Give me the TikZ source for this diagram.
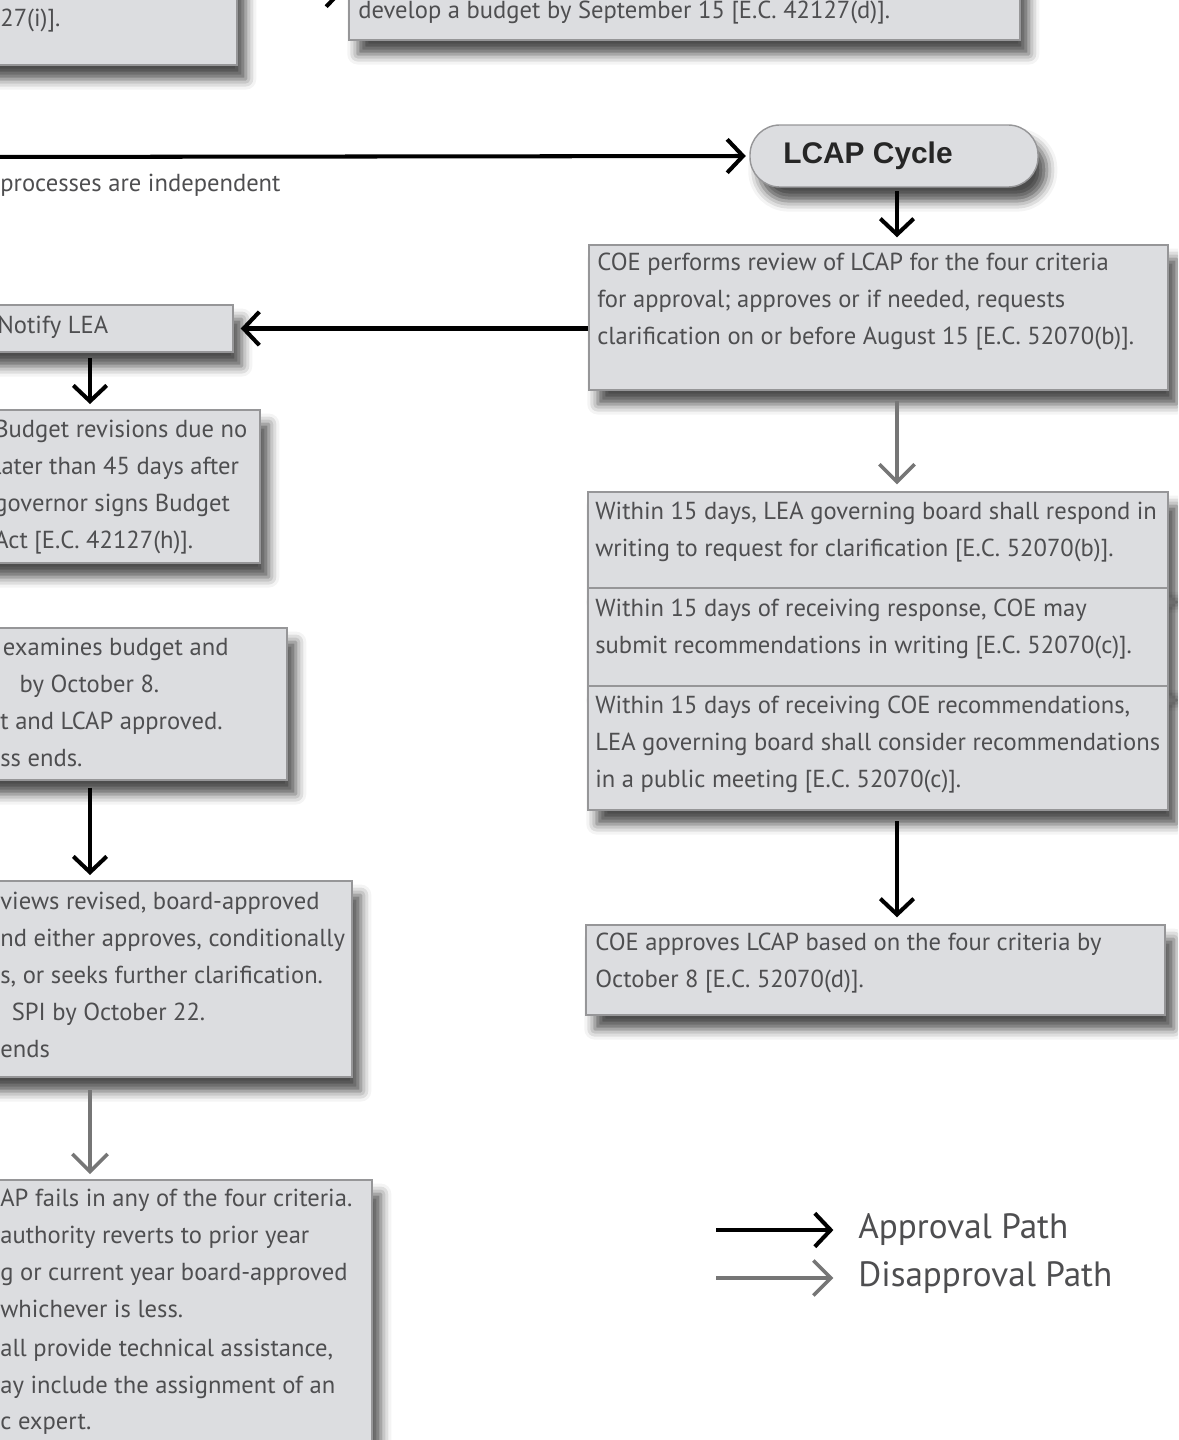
\documentclass[tikz,border=0pt]{standalone}
\usepackage{fontspec}
\setmainfont{PT Sans}
\setsansfont{Liberation Sans}
\usetikzlibrary{arrows.meta,positioning,calc,fit,shadows.blur}
\definecolor{boxfill}{RGB}{220,221,224}
\definecolor{boxline}{RGB}{150,150,152}
\definecolor{txtgray}{RGB}{78,78,80}
\definecolor{nogray}{RGB}{118,118,118}

\begin{document}
\begin{tikzpicture}[x=0.02cm, y=-0.02cm,
    box/.style={draw=boxline, fill=boxfill, line width=0.8pt, inner sep=0pt,
        blur shadow={shadow xshift=5pt, shadow yshift=-8pt, shadow blur radius=6pt, shadow opacity=70}},
    txt/.style={anchor=north west, inner sep=0pt, align=left, text=txtgray,
        font=\fontsize{14}{21}\selectfont},
    approve/.style={-{Straight Barb[length=9pt,width=19pt]}, line width=2.3pt, black},
    reject/.style={-{Straight Barb[length=10pt,width=20pt]}, line width=2pt, nogray},
]
    \useasboundingbox (0,0) rectangle (1178,1440);
    \clip (0,0) rectangle (1178,1440);
    \coordinate (lcol) at (90,0);
    \coordinate (rcol) at (897,0);

    % Budget cycle boxes cut at the top
    \node[box, fit={(-30,-100) (237,65)}] (prior) {};
    \node[txt] (prior-t) at (0,9) {27(i)].};
    \node[box, fit={(349,-60) (1020,40)}] (dev) {};
    \node[txt] (dev-t) at (358,1) {develop a budget by September 15 [E.C. 42127(d)].};
    \draw[approve, shorten >=2pt] (prior.east |- dev.west) -- (dev.west);

    % LCAP cycle
    \node[box, rounded corners=17pt, fit={(750,125) (1038,187)}] (lcap) {};
    \node[anchor=west, inner sep=0pt, text=black!85,
        font=\sffamily\bfseries\fontsize{17}{20}\selectfont] (lcap-t) at (783,156) {LCAP Cycle};
    \coordinate (lft) at (-30,157);
    \draw[approve, shorten >=2pt] (lft) -- (lcap.west);
    \node[txt, anchor=west] (indep) at (0,185) {processes are independent};

    % right column
    \node[box, fit={(589,245) (1168,390)}] (rev) {};
    \node[txt] (rev-t) at (597,253) {COE performs review of LCAP for the four criteria\\
        for approval; approves or if needed, requests\\
        clarification on or before August 15 [E.C. 52070(b)].};
    \node[box, fit={(588,492) (1168,588)}] (resp1) {};
    \node[box, fit={(588,588) (1168,686)}] (resp2) {};
    \node[box, fit={(588,686) (1168,810)}] (resp3) {};
    \node[txt] (resp1-t) at (595,502) {Within 15 days, LEA governing board shall respond in\\
        writing to request for clarification [E.C. 52070(b)].};
    \node[txt] (resp2-t) at (595,599) {Within 15 days of receiving response, COE may\\
        submit recommendations in writing [E.C. 52070(c)].};
    \node[txt] (resp3-t) at (595,696) {Within 15 days of receiving COE recommendations,\\
        LEA governing board shall consider recommendations\\
        in a public meeting [E.C. 52070(c)].};
    \node[box, fit={(586,925) (1165,1015)}] (appr) {};
    \node[txt] (appr-t) at (595,933) {COE approves LCAP based on the four criteria by\\
        October 8 [E.C. 52070(d)].};

    % left column
    \node[box, fit={(-30,305) (233,352)}] (notify) {};
    \node[txt, anchor=west] (notify-t) at (-3,327) {Notify LEA};
    \node[box, fit={(-30,410) (260,563)}] (budrev) {};
    \node[txt] (budrev-t) at (-6,420) {Budget revisions due no\\
        later than 45 days after\\
        governor signs Budget\\
        Act [E.C. 42127(h)].};
    \node[box, fit={(-30,628) (287,780)}] (exam) {};
    \node[txt] (exam-t) at (0,638) {\hspace*{1.5pt}examines budget and\\
        \hspace*{11pt}by October 8.\\
        t and LCAP approved.\\
        ss ends.};
    \node[box, fit={(-30,881) (352,1077)}] (views) {};
    \node[txt] (views-t) at (0,892) {views revised, board-approved\\
        nd either approves, conditionally\\
        s, or seeks further clarification.\\
        \hspace*{6.5pt}SPI by October 22.\\
        ends};
    \node[box, fit={(-30,1180) (372,1480)}] (fails) {};
    \node[txt] (fails-t) at (0,1189) {AP fails in any of the four criteria.\\
        authority reverts to prior year\\
        g or current year board-approved\\
        whichever is less.\\[1pt]
        all provide technical assistance,\\
        ay include the assignment of an\\
        c expert.};

    % connectors
    \draw[approve, shorten <=2pt, shorten >=4pt] (lcap.south -| rcol) -- (rev.north -| rcol);
    \draw[approve, shorten >=4pt] (rev.west |- notify) -- (notify.east);
    \draw[reject, shorten <=6pt, shorten >=4pt] (rev.south -| rcol) -- (resp1.north -| rcol);
    \draw[approve, shorten <=6pt, shorten >=4pt] (resp3.south -| rcol) -- (appr.north -| rcol);
    \draw[approve, shorten <=3pt, shorten >=3pt] (notify.south -| lcol) -- (budrev.north -| lcol);
    \draw[approve, shorten <=4pt, shorten >=3pt] (exam.south -| lcol) -- (views.north -| lcol);
    \draw[reject, shorten <=7pt, shorten >=3pt] (views.south -| lcol) -- (fails.north -| lcol);

    % legend
    \node[anchor=west, inner sep=0pt, text=txtgray, font=\fontsize{20}{24}\selectfont] (apr) at (858,1230) {Approval Path};
    \node[anchor=west, inner sep=0pt, text=txtgray, font=\fontsize{20}{24}\selectfont] (dis) at (858,1278) {Disapproval Path};
    \coordinate (apr-s) at (716,1230);
    \coordinate (dis-s) at (716,1278);
    \draw[approve, shorten >=14pt] (apr-s) -- (apr-s -| apr.west);
    \draw[reject, shorten >=14pt] (dis-s) -- (dis-s -| dis.west);
\end{tikzpicture}
\end{document}
